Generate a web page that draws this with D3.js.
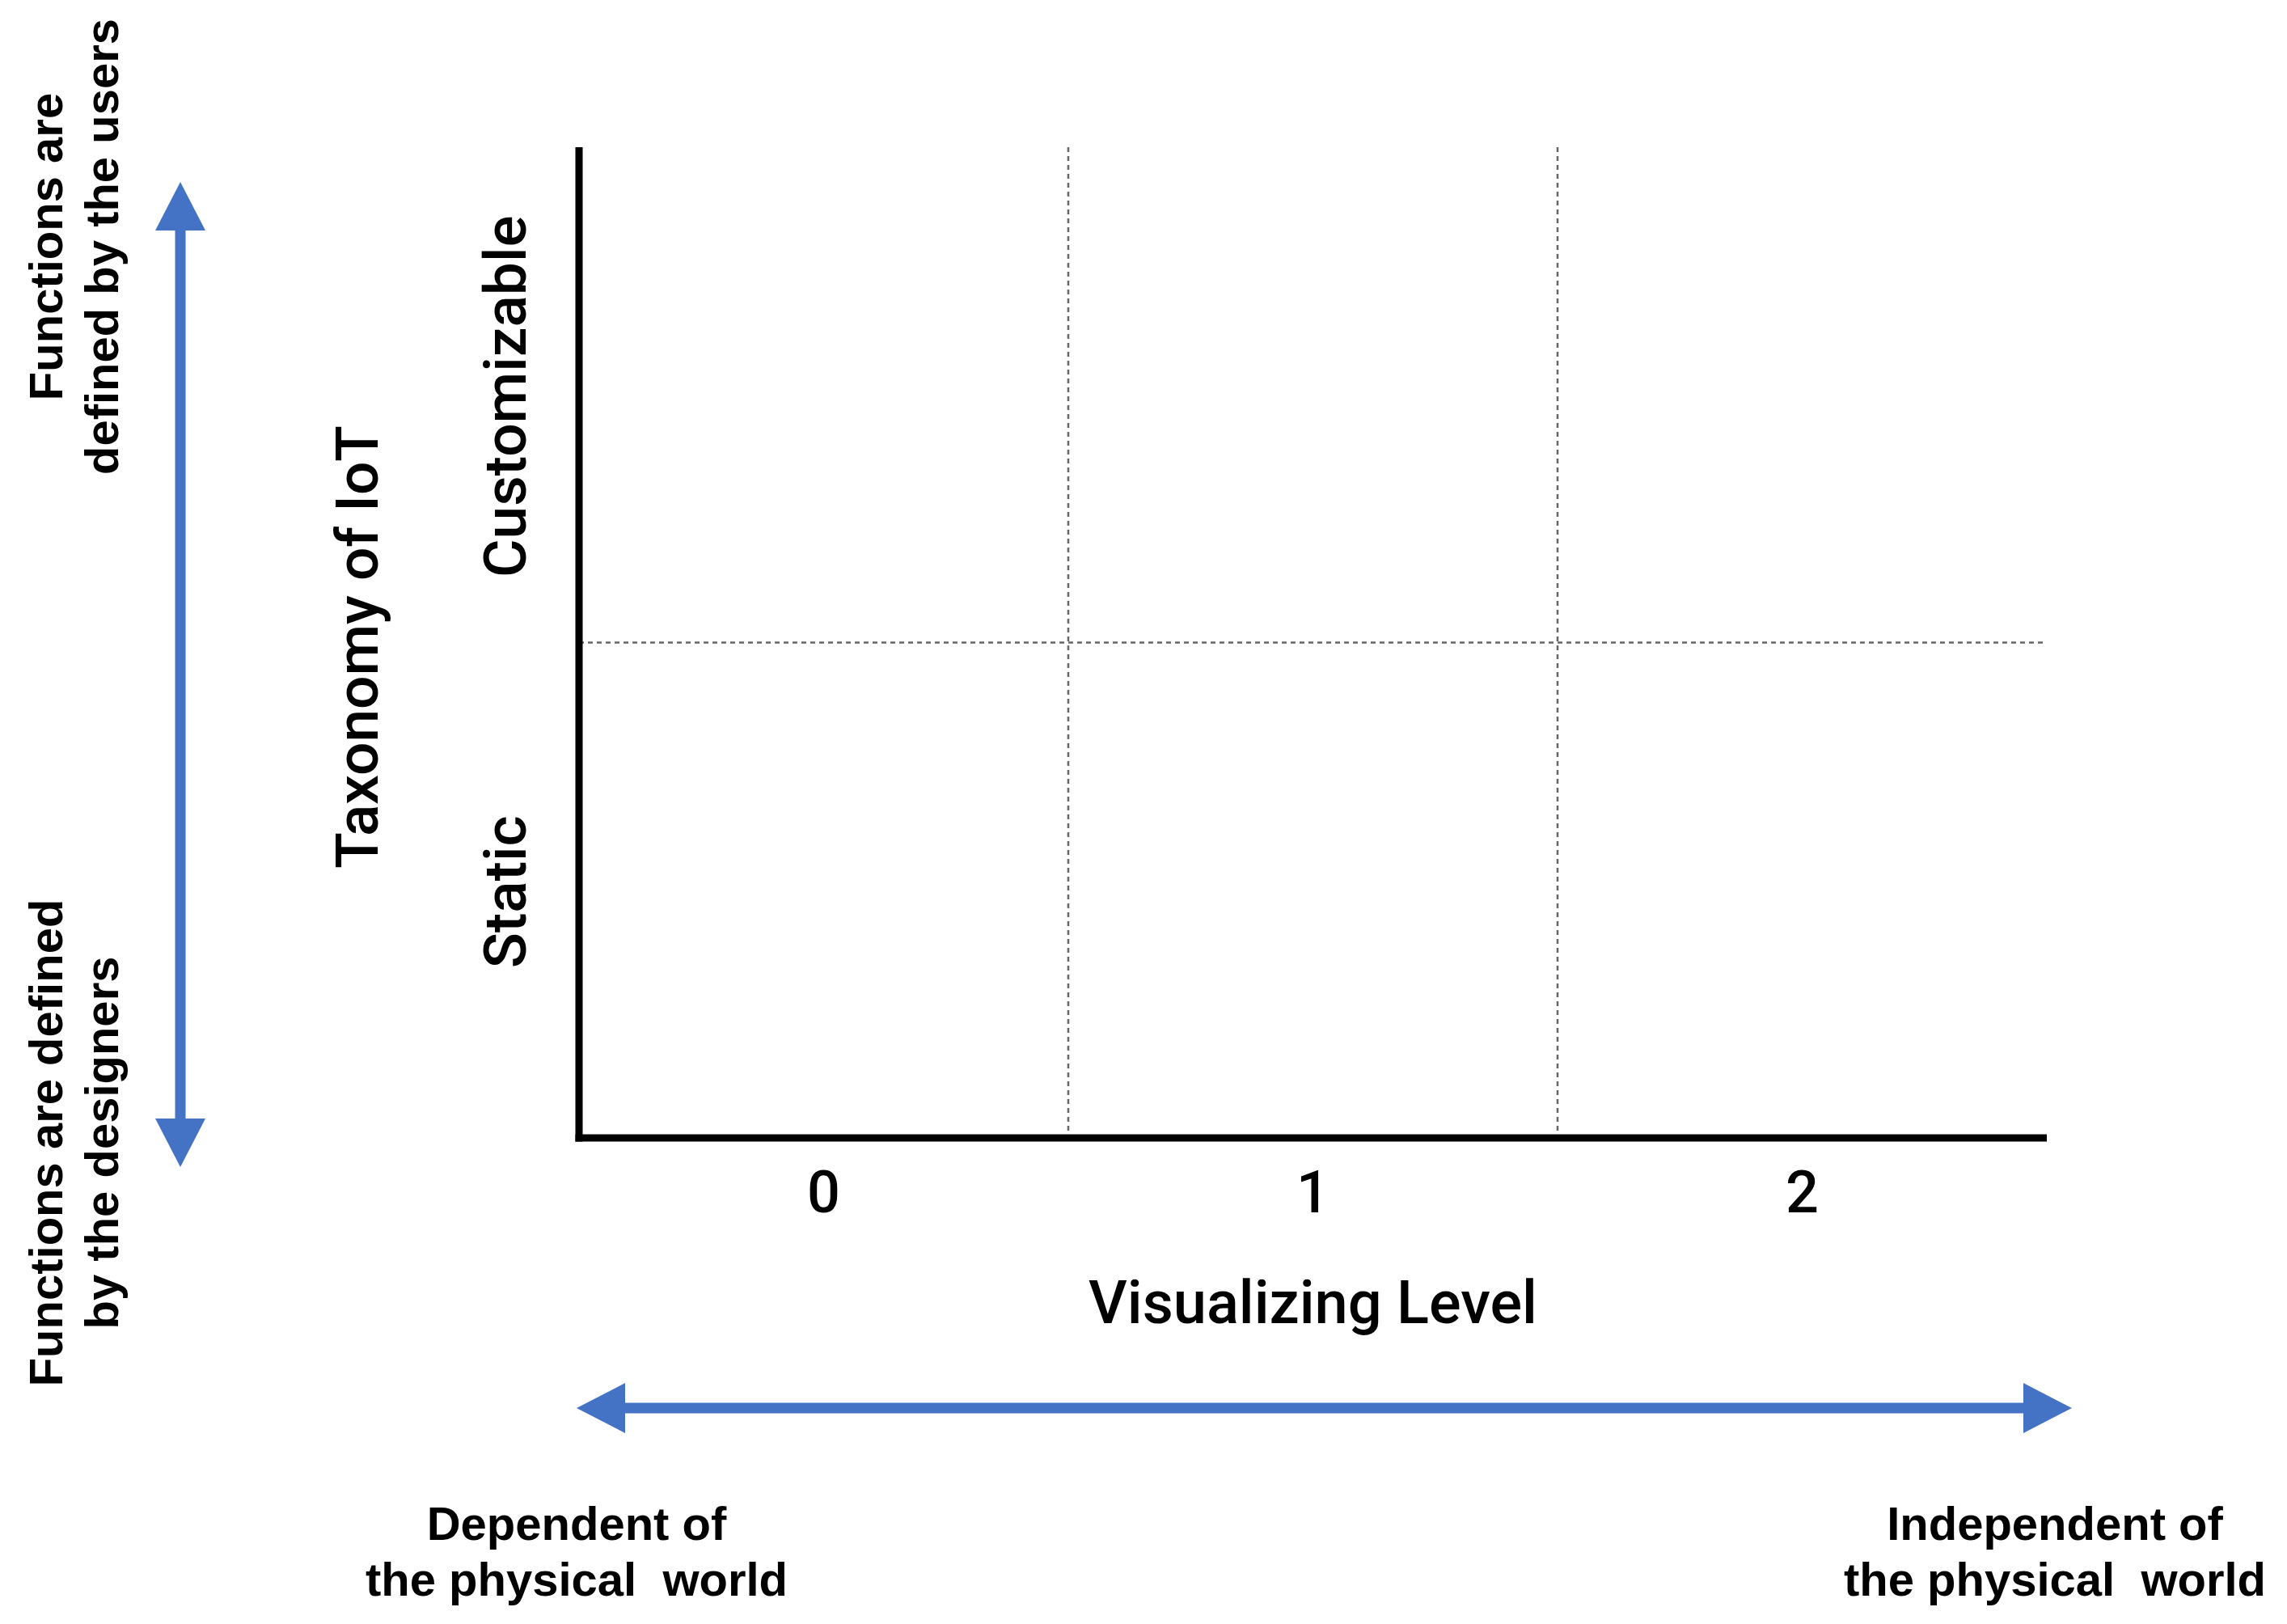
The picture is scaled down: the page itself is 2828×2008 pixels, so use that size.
<!DOCTYPE html>
<html>
<head>
<meta charset="utf-8">
<script src="https://cdn.jsdelivr.net/npm/d3@7"></script>
<style>
  html, body { margin: 0; padding: 0; background: #fff; }
  svg { display: block; }
  text { font-family: "Liberation Sans", Arial, sans-serif; fill: #000; }
  .axisfont { font-family: Roboto, "Liberation Sans", Arial, sans-serif; font-weight: 500; }
</style>
</head>
<body>
<svg width="2828" height="2008"></svg>
<script>
// chart content
const levels = [0, 1, 2];
const taxonomy = ["Customizable", "Static"];
const xTitle = "Visualizing Level";
const yTitle = "Taxonomy of IoT";
const upperNote = ["Functions are", "defined by the users"];
const lowerNote = ["Functions are defined", "by the designers"];
const leftNote = ["Dependent of", "the physical  world"];
const rightNote = ["Independent of", "the physical  world"];

function main() {
  const svg = d3.select("svg");
  const blue = "#4472c4";

  const left = 716, right = 2531, top = 182, bottom = 1407;

  const x = d3.scaleBand().domain(levels).range([left, right]);
  const y = d3.scaleBand().domain(taxonomy).range([top, bottom]);

  // dotted grid between the cells
  svg.selectAll("line.vgrid")
    .data(levels.slice(1))
    .join("line")
    .attr("class", "vgrid")
    .attr("x1", d => x(d)).attr("x2", d => x(d))
    .attr("y1", top).attr("y2", bottom)
    .style("stroke", "#666")
    .style("stroke-width", 2.5)
    .style("stroke-dasharray", "6,5");

  svg.selectAll("line.hgrid")
    .data(taxonomy.slice(1))
    .join("line")
    .attr("class", "hgrid")
    .attr("x1", left).attr("x2", right)
    .attr("y1", d => y(d)).attr("y2", d => y(d))
    .style("stroke", "#666")
    .style("stroke-width", 2.5)
    .style("stroke-dasharray", "6,5");

  // x tick labels through the axis
  const xAxis = svg.append("g")
    .attr("transform", `translate(0,${bottom})`)
    .call(d3.axisBottom(x).tickSize(0).tickPadding(41));
  xAxis.select(".domain").remove();
  xAxis.selectAll("text")
    .attr("class", "axisfont")
    .style("font-family", "Roboto, 'Liberation Sans', Arial, sans-serif")
    .style("font-weight", 500)
    .style("font-size", "72px")
    .attr("fill", "#000");

  // heavy axis lines
  svg.append("line")
    .attr("x1", left).attr("x2", left)
    .attr("y1", top).attr("y2", bottom + 4.5)
    .style("stroke", "#000").style("stroke-width", 9);
  svg.append("line")
    .attr("x1", left - 4.5).attr("x2", right)
    .attr("y1", bottom).attr("y2", bottom)
    .style("stroke", "#000").style("stroke-width", 9);

  // y category labels (rotated)
  svg.selectAll("text.ycat")
    .data(taxonomy)
    .join("text")
    .attr("class", "ycat axisfont")
    .attr("transform", d => `translate(650,${y(d) + y.bandwidth() / 2 + 2}) rotate(-90)`)
    .attr("text-anchor", "middle")
    .style("font-size", "73px")
    .text(d => d);

  // axis titles
  svg.append("text")
    .attr("class", "axisfont")
    .attr("transform", "translate(467,800) rotate(-90)")
    .attr("text-anchor", "middle")
    .style("font-size", "73px")
    .text(yTitle);

  svg.append("text")
    .attr("class", "axisfont")
    .attr("x", (left + right) / 2)
    .attr("y", 1636)
    .attr("text-anchor", "middle")
    .style("font-size", "74px")
    .text(xTitle);

  // blue double arrows
  const shaft = 13, head = 60, half = 31;
  const vx = 223, vTop = 225, vBot = 1443;
  svg.append("line")
    .attr("x1", vx).attr("x2", vx)
    .attr("y1", vTop + head - 2).attr("y2", vBot - head + 2)
    .style("stroke", blue).style("stroke-width", shaft);
  svg.append("path")
    .attr("d", `M${vx},${vTop} L${vx + half},${vTop + head} L${vx - half},${vTop + head} Z`)
    .style("fill", blue);
  svg.append("path")
    .attr("d", `M${vx},${vBot} L${vx + half},${vBot - head} L${vx - half},${vBot - head} Z`)
    .style("fill", blue);

  const hy = 1741, hL = 713, hR = 2562;
  svg.append("line")
    .attr("x1", hL + head - 2).attr("x2", hR - head + 2)
    .attr("y1", hy).attr("y2", hy)
    .style("stroke", blue).style("stroke-width", shaft);
  svg.append("path")
    .attr("d", `M${hL},${hy} L${hL + head},${hy - half} L${hL + head},${hy + half} Z`)
    .style("fill", blue);
  svg.append("path")
    .attr("d", `M${hR},${hy} L${hR - head},${hy - half} L${hR - head},${hy + half} Z`)
    .style("fill", blue);

  // notes beside the arrows
  const noteStyle = sel => sel
    .attr("text-anchor", "middle")
    .style("font-size", "58px")
    .style("font-weight", "bold")
    .style("white-space", "pre");

  const vLines = [77, 146];
  svg.selectAll("text.up")
    .data(upperNote)
    .join("text")
    .attr("class", "up")
    .attr("transform", (d, i) => `translate(${vLines[i]},305) rotate(-90)`)
    .call(noteStyle)
    .text(d => d);

  svg.selectAll("text.down")
    .data(lowerNote)
    .join("text")
    .attr("class", "down")
    .attr("transform", (d, i) => `translate(${vLines[i]},1413) rotate(-90)`)
    .call(noteStyle)
    .text(d => d);

  const hLines = [1904, 1973];
  svg.selectAll("text.dep")
    .data(leftNote)
    .join("text")
    .attr("class", "dep")
    .attr("x", 713)
    .attr("y", (d, i) => hLines[i])
    .call(noteStyle)
    .text(d => d);

  svg.selectAll("text.indep")
    .data(rightNote)
    .join("text")
    .attr("class", "indep")
    .attr("x", 2541)
    .attr("y", (d, i) => hLines[i])
    .call(noteStyle)
    .text(d => d);
}

main();
</script>
</body>
</html>
